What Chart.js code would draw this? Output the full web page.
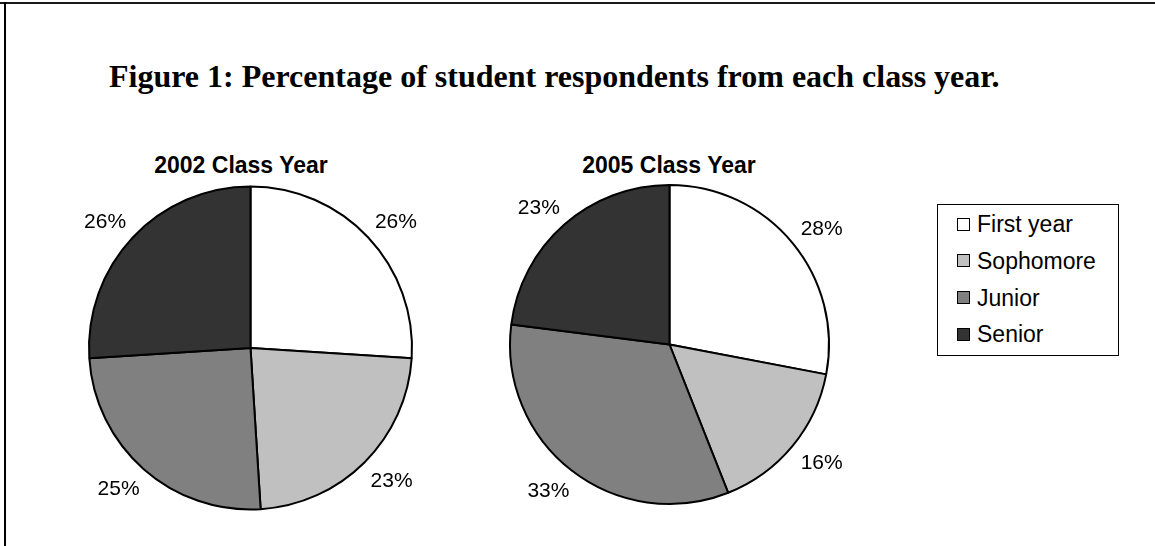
<!DOCTYPE html>
<html>
<head>
<meta charset="utf-8">
<script src="https://cdn.jsdelivr.net/npm/chart.js@4"></script>
<style>
  html, body { margin: 0; padding: 0; background: #fff; }
  body { width: 1155px; height: 546px; position: relative; overflow: hidden; }
  .frameTop { position: absolute; left: 0; top: 2px; width: 1155px; height: 2px; background: #1a1a1a; }
  .frameLeft { position: absolute; left: 4px; top: 2px; width: 2px; height: 560px; background: #000; }
  .mainTitle { position: absolute; left: 109px; top: 60px; white-space: nowrap;
    font: bold 32px/32px "Liberation Serif", "Times New Roman", serif; color: #000; }
  .pieTitle { position: absolute; top: 154px; width: 300px; text-align: center;
    font: bold 23px/23px "Liberation Sans", Arial, sans-serif; color: #000; }
  canvas { position: absolute; }
  #legend { position: absolute; left: 937px; top: 204px; width: 180px; height: 150px; border: 1.5px solid #000; }
  .item { position: absolute; left: 19px; height: 28px; display: flex; align-items: center;
    font: 23px/28px "Liberation Sans", Arial, sans-serif; color: #000; white-space: nowrap; }
  .item span.box { width: 11px; height: 11px; border: 1px solid #000; margin-right: 7px; }
</style>
</head>
<body>
<div class="frameTop"></div>
<div class="frameLeft"></div>
<div class="mainTitle">Figure 1: Percentage of student respondents from each class year.</div>
<div class="pieTitle" style="left:91px">2002 Class Year</div>
<div class="pieTitle" style="left:519px">2005 Class Year</div>
<canvas id="pie2002" width="381" height="370" style="left:60px; top:163px"></canvas>
<canvas id="pie2005" width="381" height="369" style="left:479px; top:160px"></canvas>
<div id="legend"></div>

<script>
// data
const categories = ['First year', 'Sophomore', 'Junior', 'Senior'];
const values2002 = [26, 23, 25, 26];
const values2005 = [28, 16, 33, 23];

const sliceColours = ['#ffffff', '#c0c0c0', '#808080', '#333333'];

// percent labels outside each slice, box pushed outward like excel does
const pctLabels = {
    id: 'pctLabels',
    afterDatasetsDraw(chart) {
        let ctx = chart.ctx;
        let data = chart.data.datasets[0].data;
        let total = data.reduce((a, b) => a + b, 0);
        let capH = 15;
        ctx.save();
        ctx.font = '21px "Liberation Sans", Arial, sans-serif';
        ctx.fillStyle = '#000';
        ctx.textAlign = 'center';
        ctx.textBaseline = 'alphabetic';
        chart.getDatasetMeta(0).data.forEach((arc, i) => {
            let p = arc.getProps(['x', 'y', 'startAngle', 'endAngle', 'outerRadius'], true);
            let mid = (p.startAngle + p.endAngle) / 2;
            let txt = Math.round(data[i] / total * 100) + '%';
            let w = ctx.measureText(txt).width;
            let r = p.outerRadius + 17;
            let cx = p.x + Math.cos(mid) * (r + w / 2);
            let cy = p.y + Math.sin(mid) * (r + capH / 2);
            ctx.fillText(txt, cx, cy + capH / 2);
        });
        ctx.restore();
    }
};

function makePie(id, values, radius) {
    return new Chart(document.getElementById(id), {
        type: 'pie',
        data: {
            labels: categories,
            datasets: [{
                data: values,
                backgroundColor: sliceColours,
                borderColor: '#000',
                borderWidth: 2
            }]
        },
        options: {
            responsive: false,
            animation: false,
            radius: radius,
            plugins: {
                legend: { display: false },
                tooltip: { enabled: false }
            }
        },
        plugins: [pctLabels]
    });
}

makePie('pie2002', values2002, 161.5);
makePie('pie2005', values2005, 159.5);

// legend box
let legend = document.getElementById('legend');
categories.forEach((c, i) => {
    let row = document.createElement('div');
    row.className = 'item';
    row.style.top = (5 + i * 36.8) + 'px';
    let box = document.createElement('span');
    box.className = 'box';
    box.style.background = sliceColours[i];
    row.appendChild(box);
    row.appendChild(document.createTextNode(c));
    legend.appendChild(row);
});
</script>
</body>
</html>
